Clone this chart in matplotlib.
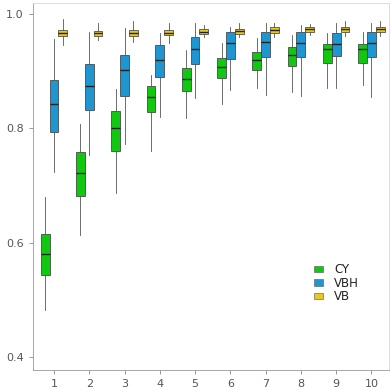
import matplotlib
matplotlib.use("Agg")
import matplotlib.pyplot as plt
from matplotlib.patches import Patch

groups = [1, 2, 3, 4, 5, 6, 7, 8, 9, 10]
series = ["CY", "VBH", "VB"]
colors = ["#10c810", "#1e96d2", "#e6c81e"]

# each row: whisker low, q1, median, q3, whisker high
cy = [
    [0.483, 0.544, 0.580, 0.615, 0.680],
    [0.614, 0.682, 0.721, 0.758, 0.807],
    [0.686, 0.761, 0.801, 0.830, 0.868],
    [0.760, 0.829, 0.854, 0.874, 0.893],
    [0.818, 0.865, 0.886, 0.905, 0.937],
    [0.842, 0.888, 0.908, 0.923, 0.949],
    [0.870, 0.902, 0.919, 0.933, 0.958],
    [0.864, 0.909, 0.929, 0.943, 0.963],
    [0.870, 0.915, 0.938, 0.947, 0.967],
    [0.875, 0.915, 0.938, 0.947, 0.969],
]
vbh = [
    [0.723, 0.794, 0.842, 0.885, 0.957],
    [0.754, 0.832, 0.874, 0.913, 0.969],
    [0.772, 0.856, 0.902, 0.929, 0.975],
    [0.819, 0.890, 0.919, 0.946, 0.967],
    [0.853, 0.912, 0.938, 0.960, 0.984],
    [0.867, 0.922, 0.950, 0.968, 0.977],
    [0.858, 0.924, 0.951, 0.968, 0.984],
    [0.856, 0.924, 0.949, 0.969, 0.981],
    [0.870, 0.926, 0.947, 0.966, 0.984],
    [0.855, 0.925, 0.949, 0.968, 0.985],
]
vb = [
    [0.946, 0.961, 0.967, 0.972, 0.992],
    [0.954, 0.961, 0.966, 0.970, 0.984],
    [0.951, 0.961, 0.967, 0.972, 0.987],
    [0.949, 0.963, 0.967, 0.972, 0.985],
    [0.960, 0.965, 0.969, 0.974, 0.981],
    [0.960, 0.965, 0.970, 0.974, 0.984],
    [0.960, 0.967, 0.972, 0.977, 0.985],
    [0.963, 0.968, 0.973, 0.977, 0.982],
    [0.962, 0.968, 0.973, 0.977, 0.987],
    [0.962, 0.968, 0.973, 0.978, 0.988],
]

fig = plt.figure(figsize=(3.91, 3.90), dpi=100)
ax = fig.add_axes([0.084, 0.051, 0.911, 0.941])

offsets = [-0.25, 0.0, 0.25]
for data, off, col in zip([cy, vbh, vb], offsets, colors):
    stats = []
    for row in data:
        stats.append({"whislo": row[0], "q1": row[1], "med": row[2],
                      "q3": row[3], "whishi": row[4], "fliers": []})
    ax.bxp(stats, positions=[g + off for g in groups], widths=0.25,
           patch_artist=True, showfliers=False, showcaps=False,
           boxprops=dict(facecolor=col, edgecolor="#333333", linewidth=0.5),
           medianprops=dict(color="#222222", linewidth=1.0),
           whiskerprops=dict(color="#555555", linewidth=0.6),
           manage_ticks=False)

ax.set_xlim(0.4, 10.5)
ax.set_ylim(0.377, 1.019)
ax.set_xticks(groups)
ax.set_yticks([0.4, 0.6, 0.8, 1.0])
ax.set_yticklabels(["0.4", "0.6", "0.8", "1.0"])
ax.tick_params(labelsize=8, colors="#888888", labelcolor="#555555", length=3, width=0.6)

for s in ["top", "right"]:
    ax.spines[s].set_color("#d8d8d8")
    ax.spines[s].set_linewidth(0.6)
for s in ["left", "bottom"]:
    ax.spines[s].set_color("#999999")
    ax.spines[s].set_linewidth(0.6)

handles = [Patch(facecolor=c, edgecolor="#555555", linewidth=0.4) for c in colors]
ax.legend(handles, series, loc="center left", bbox_to_anchor=(0.772, 0.237),
          frameon=False, fontsize=8.5, handlelength=0.75, handleheight=0.45,
          handletextpad=1.0, labelspacing=0.05, borderpad=0,
          labelcolor="#222222")

fig.savefig("out.png", dpi=100)
